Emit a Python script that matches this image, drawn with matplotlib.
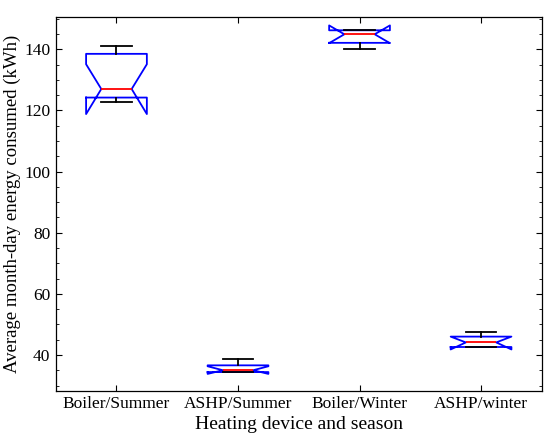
import matplotlib
import matplotlib.pyplot as plt
from matplotlib.ticker import AutoMinorLocator

matplotlib.use("Agg")

labels = ["Boiler/Summer", "ASHP/Summer", "Boiler/Winter", "ASHP/winter"]
medians = [127.0, 35.0, 144.9, 44.1]
q1 = [124.2, 34.4, 142.1, 42.6]
q3 = [138.5, 36.6, 146.2, 46.0]
whis_lo = [122.6, 34.3, 140.2, 42.5]
whis_hi = [141.2, 38.6, 146.2, 47.4]
notch_lo = [118.8, 33.8, 142.0, 41.8]
notch_hi = [135.1, 36.3, 147.8, 46.0]

plt.rcParams["font.family"] = ["Liberation Serif", "DejaVu Serif"]

stats = []
for i, name in enumerate(labels):
    stats.append({
        "label": name,
        "med": medians[i],
        "q1": q1[i],
        "q3": q3[i],
        "whislo": whis_lo[i],
        "whishi": whis_hi[i],
        "cilo": notch_lo[i],
        "cihi": notch_hi[i],
        "fliers": [],
    })

fig = plt.figure(figsize=(5.5, 4.4), dpi=100)
ax = fig.add_axes([0.1013, 0.112, 0.8838, 0.849])

ax.bxp(stats, positions=[1, 2, 3, 4], widths=0.5, shownotches=True,
       showfliers=False,
       boxprops=dict(color="#0000ff", lw=1.3),
       medianprops=dict(color="#ff0000", lw=1.3),
       whiskerprops=dict(color="black", lw=1.3),
       capprops=dict(color="black", lw=1.3))

ax.set_xlim(0.5, 4.5)
ax.set_ylim(28.3, 150.5)
ax.set_yticks([40, 60, 80, 100, 120, 140])
ax.yaxis.set_minor_locator(AutoMinorLocator(4))
ax.tick_params(which="both", direction="in", top=True, right=True, labelsize=12.5)
ax.tick_params(which="major", length=4, pad=4)
ax.tick_params(which="minor", length=2)

ax.set_xlabel("Heating device and season", fontsize=14, labelpad=3)
ax.set_ylabel("Average month-day energy consumed (kWh)", fontsize=13.5, labelpad=2)

for s in ax.spines.values():
    s.set_linewidth(0.9)

fig.savefig("out.png", dpi=100)
